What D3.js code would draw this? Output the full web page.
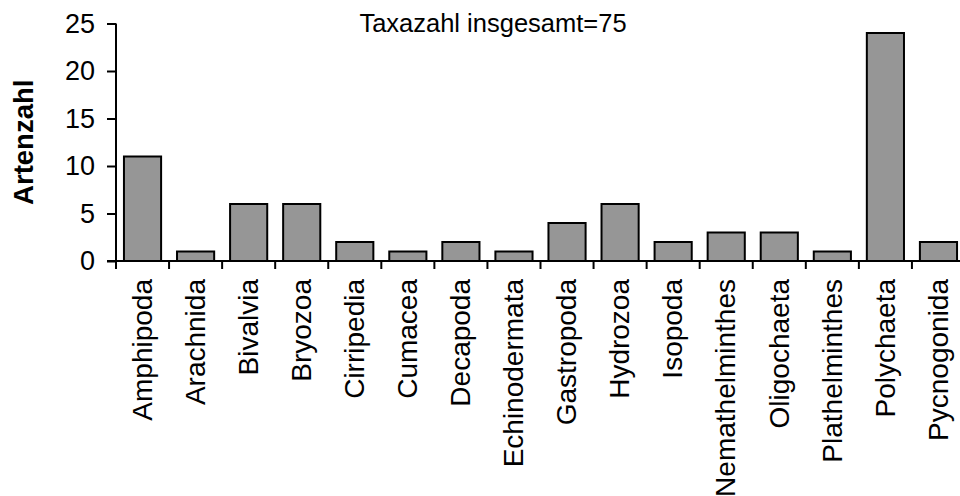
<!DOCTYPE html>
<html>
<head>
<meta charset="utf-8">
<script src="https://cdn.jsdelivr.net/npm/d3@7"></script>
<style>
  body { margin: 0; background: #fff; }
  text { font-family: "Liberation Sans", Arial, sans-serif; fill: #000; }
</style>
</head>
<body>
<div id="chart"></div>
<script>
var taxa = ["Amphipoda", "Arachnida", "Bivalvia", "Bryozoa", "Cirripedia", "Cumacea",
  "Decapoda", "Echinodermata", "Gastropoda", "Hydrozoa", "Isopoda", "Nemathelminthes",
  "Oligochaeta", "Plathelminthes", "Polychaeta", "Pycnogonida"];
var artenzahl = [11, 1, 6, 6, 2, 1, 2, 1, 4, 6, 2, 3, 3, 1, 24, 2];
var yTicks = [0, 5, 10, 15, 20, 25];
var titleText = "Taxazahl insgesamt=75";

var width = 960, height = 496;
var plotLeft = 116, plotRight = 965, plotTop = 23.5, plotBottom = 261;

var svg = d3.select("#chart")
  .append("svg")
  .attr("width", width)
  .attr("height", height);

var x = d3.scaleBand()
  .domain(taxa)
  .range([plotLeft, plotRight])
  .paddingInner(0.3)
  .paddingOuter(0.15);

var y = d3.scaleLinear()
  .domain([0, 25])
  .range([plotBottom, plotTop]);

// bars
svg.selectAll("rect.bar")
  .data(taxa)
  .enter()
  .append("rect")
  .attr("class", "bar")
  .attr("x", function (d) { return x(d); })
  .attr("y", function (d, i) { return y(artenzahl[i]); })
  .attr("width", x.bandwidth())
  .attr("height", function (d, i) { return y(0) - y(artenzahl[i]); })
  .attr("fill", "#969696")
  .attr("stroke", "#000")
  .attr("stroke-width", 2);

// y axis
var yAxis = svg.append("g")
  .attr("transform", "translate(" + plotLeft + ",0)")
  .call(d3.axisLeft(y).tickValues(yTicks).tickSize(9).tickPadding(12));
yAxis.select(".domain").attr("stroke", "#000").attr("stroke-width", 2)
  .attr("d", "M0," + y(25) + "V" + y(0));
yAxis.selectAll(".tick line").attr("stroke", "#000").attr("stroke-width", 2);
yAxis.selectAll(".tick text")
  .style("font-size", "27px")
  .style("font-family", "'Liberation Sans', Arial, sans-serif")
  .attr("fill", "#000");

// x axis line and ticks at category boundaries
var step = x.step();
var bounds = taxa.map(function (d) { return x(d) - step * 0.15; });
bounds.push(x(taxa[taxa.length - 1]) + x.bandwidth() + step * 0.15);

svg.append("line")
  .attr("x1", plotLeft - 9).attr("x2", plotRight)
  .attr("y1", y(0)).attr("y2", y(0))
  .attr("stroke", "#000").attr("stroke-width", 2);

svg.selectAll("line.xtick")
  .data(bounds)
  .enter()
  .append("line")
  .attr("class", "xtick")
  .attr("x1", function (d) { return d; })
  .attr("x2", function (d) { return d; })
  .attr("y1", y(0))
  .attr("y2", y(0) + 8)
  .attr("stroke", "#000")
  .attr("stroke-width", 2);

// category labels
svg.selectAll("text.xlab")
  .data(taxa)
  .enter()
  .append("text")
  .attr("class", "xlab")
  .attr("transform", function (d) {
    return "translate(" + (x(d) + x.bandwidth() / 2) + "," + 279 + ")rotate(-90)";
  })
  .attr("text-anchor", "end")
  .attr("dy", "0.33em")
  .style("font-size", "28px")
  .text(function (d) { return d; });

// axis title
svg.append("text")
  .attr("transform", "translate(33," + ((y(0) + y(25)) / 2) + ")rotate(-90)")
  .attr("text-anchor", "middle")
  .style("font-size", "27.5px")
  .style("font-weight", "bold")
  .text("Artenzahl");

// annotation
svg.append("text")
  .attr("x", 493)
  .attr("y", 32)
  .attr("text-anchor", "middle")
  .style("font-size", "25.5px")
  .text(titleText);
</script>
</body>
</html>
